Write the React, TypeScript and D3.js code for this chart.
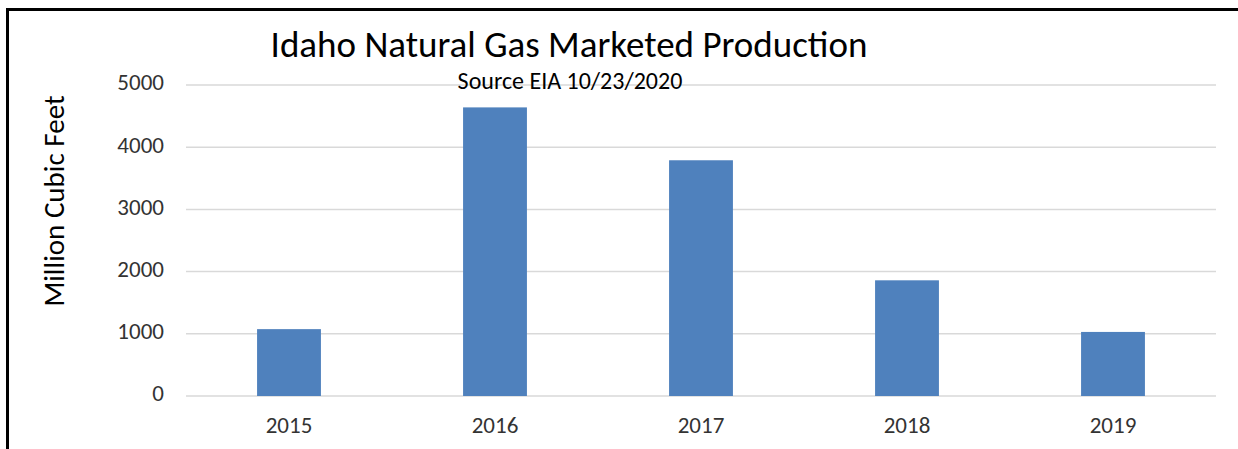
import * as React from 'react';
import * as d3 from 'd3';

const years = ['2015', '2016', '2017', '2018', '2019'];
const production = [1075, 4640, 3790, 1860, 1030];
const yTicks = [0, 1000, 2000, 3000, 4000, 5000];

const W = 1238;
const H = 449;
const FONT = 'Carlito, Lato, "Liberation Sans", sans-serif';

const App = () => {
  const x = d3.scaleBand().domain(years).range([186, 1216]).paddingInner(0.69).paddingOuter(0.345);
  const y = d3.scaleLinear().domain([0, 5000]).range([396, 85]);

  return (
    <svg width={W} height={H} style={{ position: 'absolute', left: 0, top: 0, background: '#fff' }}>
      <rect x={7.5} y={9.5} width={1300} height={500} fill="#fff" stroke="#000" strokeWidth={3} />

      {/* gridlines */}
      {yTicks.map((t) => (
        <line key={t} x1={186} x2={1216} y1={y(t)} y2={y(t)} stroke="#d9d9d9" strokeWidth={1.5} />
      ))}

      {/* bars */}
      {years.map((yr, i) => (
        <rect key={yr} x={x(yr)} y={y(production[i])} width={x.bandwidth()}
          height={y(0) - y(production[i])} fill="#4f81bd" />
      ))}

      {/* y tick labels */}
      {yTicks.map((t) => (
        <text key={t} x={164} y={y(t)} textAnchor="end" dominantBaseline="middle"
          fontFamily={FONT} fontSize={23} fill="#333">{t}</text>
      ))}

      {/* x labels */}
      {years.map((yr) => (
        <text key={yr} x={x(yr) + x.bandwidth() / 2} y={428} textAnchor="middle" dominantBaseline="middle"
          fontFamily={FONT} fontSize={23} fill="#333">{yr}</text>
      ))}

      <text x={569} y={57} textAnchor="middle" fontFamily={FONT} fontSize={37} fill="#000">
        Idaho Natural Gas Marketed Production
      </text>
      <text x={570} y={89} textAnchor="middle" fontFamily={FONT} fontSize={24} fill="#000">
        Source EIA 10/23/2020
      </text>
      <text transform="translate(57,201) rotate(-90)" textAnchor="middle" dominantBaseline="middle"
        fontFamily={FONT} fontSize={29} fill="#000">
        Million Cubic Feet
      </text>
    </svg>
  );
};

export default App;
